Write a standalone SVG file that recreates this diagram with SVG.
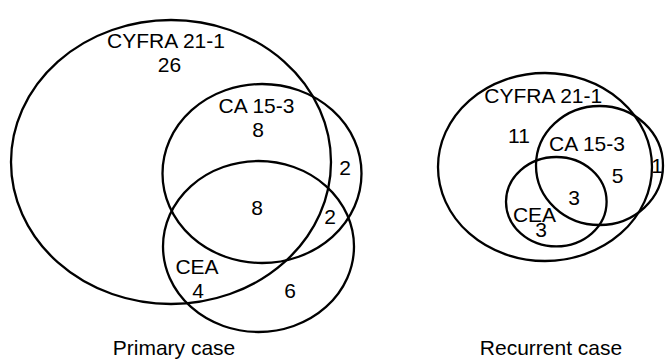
<svg xmlns="http://www.w3.org/2000/svg" width="666" height="359" viewBox="0 0 666 359">
<style>
.set{fill:none;stroke:#000;stroke-width:2.3}
text{font-family:"Liberation Sans",Arial,sans-serif;font-size:21px;fill:#000;text-anchor:middle}
</style>
<rect width="666" height="359" fill="#fff"/>
<g id="primary">
<g id="p-cyfra"><ellipse class="set" cx="171" cy="162" rx="160" ry="142"/><text x="166" y="48">CYFRA 21-1</text><text x="169.5" y="72">26</text></g>
<g id="p-ca153"><ellipse class="set" cx="262" cy="173.5" rx="99.5" ry="89.5"/><text x="256.5" y="113">CA 15-3</text><text x="258" y="137">8</text></g>
<g id="p-cea"><ellipse class="set" cx="258.5" cy="246.5" rx="95.5" ry="85.5"/><text x="197" y="274">CEA</text><text x="198" y="298">4</text></g>
<g id="p-regions"><text x="257" y="215">8</text><text x="345" y="175">2</text><text x="330" y="224">2</text><text x="290" y="298">6</text></g>
<text x="174" y="355">Primary case</text>
</g>
<g id="recurrent">
<g id="r-cyfra"><ellipse class="set" cx="545" cy="167" rx="107" ry="94"/><text x="543.3" y="103.3">CYFRA 21-1</text><text x="519" y="142.5">11</text></g>
<g id="r-ca153"><ellipse class="set" cx="599.5" cy="165.5" rx="63.5" ry="59.5"/><text x="587" y="150.5">CA 15-3</text></g>
<g id="r-cea"><ellipse class="set" cx="556.3" cy="201.7" rx="50.3" ry="44.7"/><text x="534.5" y="221.5">CEA</text><text x="541" y="237">3</text></g>
<g id="r-regions"><text x="657" y="173">1</text><text x="617.5" y="183">5</text><text x="574" y="205">3</text></g>
<text x="551" y="355">Recurrent case</text>
</g>
<g id="connectors"/>
</svg>
